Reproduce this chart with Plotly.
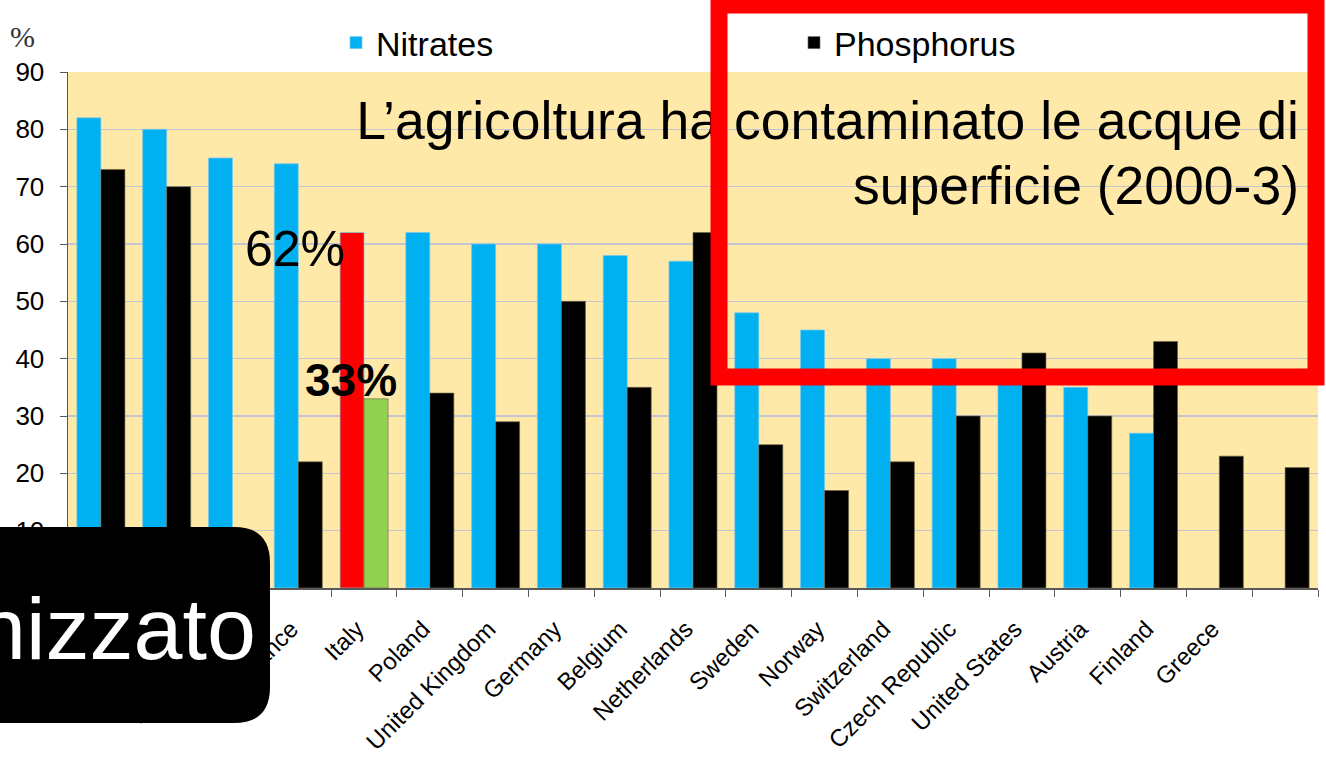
import plotly.graph_objects as go

# ---------------- data ----------------
countries = ["Denmark", "Ireland", "Luxembourg", "France", "Italy", "Poland",
             "United Kingdom", "Germany", "Belgium", "Netherlands", "Sweden", "Norway",
             "Switzerland", "Czech Republic", "United States", "Austria", "Finland",
             "Greece", " "]
nitrates = [82, 80, 75, 74, 62, 62, 60, 60, 58, 57, 48, 45, 40, 40, 37, 35, 27, None, None]
phosphorus = [73, 70, None, 22, 33, 34, 29, 50, 35, 62, 25, 17, 22, 30, 41, 30, 43, 23, 21]
highlight = "Italy"
y_ticks = [0, 10, 20, 30, 40, 50, 60, 70, 80, 90]

BLUE = "#00B0F0"
BLACK = "#000000"
RED = "#FF0000"
GREEN = "#92D050"
FONT = "Arial, Liberation Sans, sans-serif"

nit_colors = [RED if c == highlight else BLUE for c in countries]
pho_colors = [GREEN if c == highlight else BLACK for c in countries]

# ---------------- geometry helpers (pixel -> paper) ----------------
W, H = 1326, 763
L, R, T, B = 68, 8, 72, 175
PW, PH = W - L - R, H - T - B


def px(x):
    return (x - L) / PW


def py(y):
    return (H - B - y) / PH


fig = go.Figure()
fig.add_trace(go.Bar(name="Nitrates", x=countries, y=nitrates,
                     marker=dict(color=nit_colors, line=dict(color="rgba(120,200,235,0.9)", width=0.8))))
fig.add_trace(go.Bar(name="Phosphorus", x=countries, y=phosphorus,
                     marker=dict(color=pho_colors, line=dict(color="rgba(110,100,70,0.8)", width=0.8))))

# rounded black box (bottom-left)
bx0, bx1, by0, by1, rad = -2, 270, 527, 723, 36
rx, ry = rad / PW, rad / PH
X0, X1, Y0, Y1 = px(bx0), px(bx1), py(by1), py(by0)
box_path = (f"M{X0},{Y0} L{X1 - rx},{Y0} Q{X1},{Y0} {X1},{Y0 + ry} "
            f"L{X1},{Y1 - ry} Q{X1},{Y1} {X1 - rx},{Y1} L{X0},{Y1} Z")

shapes = [
    # title lines as labels of invisible shapes (so the red frame covers them)
    dict(type="rect", xref="paper", yref="paper", x0=px(350), x1=px(1302), y0=py(144), y1=py(86),
         fillcolor="rgba(0,0,0,0)", line=dict(width=0), layer="above",
         label=dict(text="L’agricoltura ha contaminato le acque di", textposition="middle right",
                    font=dict(family=FONT, size=53.5, color="black"), padding=0)),
    dict(type="rect", xref="paper", yref="paper", x0=px(800), x1=px(1302), y0=py(209), y1=py(151),
         fillcolor="rgba(0,0,0,0)", line=dict(width=0), layer="above",
         label=dict(text="superficie (2000-3)", textposition="middle right",
                    font=dict(family=FONT, size=53.5, color="black"), padding=0)),
    # red frame
    dict(type="rect", xref="paper", yref="paper", x0=px(719), x1=px(1316), y0=py(377), y1=py(5),
         line=dict(color=RED, width=17), fillcolor="rgba(0,0,0,0)", layer="above"),
    # black rounded box
    dict(type="path", xref="paper", yref="paper", path=box_path,
         fillcolor="black", line=dict(width=0), layer="above"),
]

annotations = [
    dict(xref="paper", yref="paper", x=px(8), y=py(36), text="%", showarrow=False,
         xanchor="left", yanchor="middle",
         font=dict(family="Liberation Serif, Times New Roman, serif", size=30, color="#333333")),
    dict(xref="paper", yref="paper", x=px(243), y=py(249), text="62%", showarrow=False,
         xanchor="left", yanchor="middle", font=dict(family=FONT, size=50, color="black")),
    dict(xref="paper", yref="paper", x=px(303), y=py(380), text="<b>33%</b>", showarrow=False,
         xanchor="left", yanchor="middle", font=dict(family=FONT, size=46, color="black")),
    dict(xref="paper", yref="paper", x=px(258), y=py(628), text="nizzato", showarrow=False,
         xanchor="right", yanchor="middle", font=dict(family=FONT, size=88, color="white")),
]

fig.update_layout(
    width=W, height=H,
    margin=dict(l=L, r=R, t=T, b=B, autoexpand=False),
    paper_bgcolor="white",
    plot_bgcolor="#FFE9A9",
    barmode="group", bargap=0.27, bargroupgap=0,
    font=dict(family=FONT, color="black"),
    showlegend=True,
    legend=dict(orientation="h", x=px(336), y=py(43), xanchor="left", yanchor="middle",
                font=dict(family=FONT, size=34, color="black"),
                entrywidth=413, entrywidthmode="pixels", bgcolor="rgba(0,0,0,0)",
                itemclick=False, itemdoubleclick=False),
    shapes=shapes,
    annotations=annotations,
    hovermode=False,
)
fig.update_xaxes(type="category", tickangle=-45, tickson="boundaries", ticks="outside",
                 ticklen=7, tickcolor="#595959", showline=True, linecolor="#595959", linewidth=1.5,
                 tickfont=dict(family=FONT, size=24, color="black"), showgrid=False,
                 ticklabelstandoff=16, ticklabelshift=-7,
                 range=[-0.5, len(countries) - 0.5])
fig.update_yaxes(range=[0, 90], tickvals=y_ticks, ticks="outside", ticklen=7, tickcolor="#595959",
                 showline=True, linecolor="#595959", linewidth=1.5, showgrid=True,
                 gridcolor="#C3C6D2", gridwidth=1.2, zeroline=False, ticklabelstandoff=10,
                 tickfont=dict(family=FONT, size=26, color="black"))

fig.write_html("out.html", config={"displayModeBar": False, "staticPlot": True},
               post_script="document.body.style.margin='0px';document.body.style.overflow='hidden';")
